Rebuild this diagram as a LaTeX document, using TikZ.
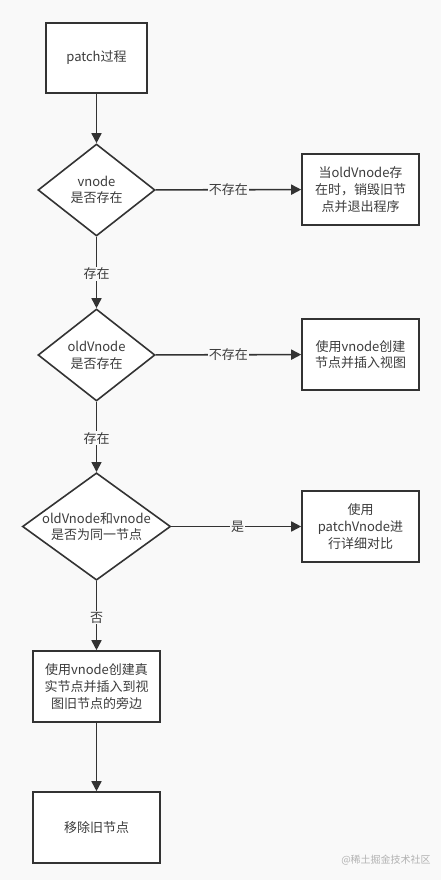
\documentclass[tikz,border=0pt]{standalone}
\usepackage{fontspec}
\setmainfont{Noto Sans CJK SC}
\usetikzlibrary{shapes.geometric,arrows.meta}
\definecolor{bg}{HTML}{F9F9F9}
\definecolor{ink}{HTML}{333333}
\definecolor{txt}{HTML}{3C3C3C}
\tikzset{
  box/.style={draw=ink, line width=1.6pt, fill=white, align=center, text=txt, font=\fontsize{13}{16.7}\selectfont, inner sep=0pt},
  dia/.style={draw=ink, line width=1.6pt, fill=white, diamond, align=center, text=txt, font=\fontsize{13}{16.7}\selectfont, inner sep=0pt},
  conn/.style={draw=ink, line width=1.6pt, -{Triangle[length=10pt,width=10pt]}},
  lab/.style={fill=bg, text=txt, font=\fontsize{13}{15}\selectfont, inner sep=1pt}
}
\begin{document}
\begin{tikzpicture}[x=1pt,y=-1pt]
\fill[bg] (0,0) rectangle (441,880);
\useasboundingbox (0,0) rectangle (441,880);
% nodes
\node[box, minimum width=101pt, minimum height=70pt] (start) at (96.5,58) {patch过程};
\node[dia, shape aspect=1.27, minimum width=117pt, minimum height=92pt] (d1) at (96.5,190) {vnode\\是否存在};
\node[box, minimum width=117pt, minimum height=71pt] (r1) at (360.5,189.5) {当oldVnode存\\在时，销毁旧节\\点并退出程序};
\node[dia, shape aspect=1.27, minimum width=117pt, minimum height=92pt] (d2) at (96.5,355) {oldVnode\\是否存在};
\node[box, minimum width=117pt, minimum height=71pt] (r2) at (360.5,354.5) {使用vnode创建\\节点并插入视图};
\node[dia, shape aspect=1.38, minimum width=148pt, minimum height=107pt] (d3) at (96.5,526.5) {oldVnode和vnode\\是否为同一节点};
\node[box, minimum width=117pt, minimum height=71pt] (r3) at (360.5,526.5) {使用\\patchVnode进\\行详细对比};
\node[box, minimum width=127pt, minimum height=71pt] (b4) at (96.5,686.5) {使用vnode创建真\\实节点并插入到视\\图旧节点的旁边};
\node[box, minimum width=127pt, minimum height=71pt] (b5) at (96.5,827.5) {移除旧节点};
% connectors
\draw[conn] (start) -- (d1);
\draw[conn] (d1) -- node[lab, pos=0.5]{不存在} (r1);
\draw[conn] (d1) -- node[lab, pos=0.52]{存在} (d2);
\draw[conn] (d2) -- node[lab, pos=0.5]{不存在} (r2);
\draw[conn] (d2) -- node[lab, pos=0.52]{存在} (d3);
\draw[conn] (d3) -- node[lab, pos=0.51]{是} (r3);
\draw[conn] (d3) -- node[lab, pos=0.53]{否} (b4);
\draw[conn] (b4) -- (b5);
% watermark
\node[text=black!30, font=\fontsize{10}{12}\selectfont, inner sep=0pt] (wm) at (386,860) {@稀土掘金技术社区};
\end{tikzpicture}
\end{document}
